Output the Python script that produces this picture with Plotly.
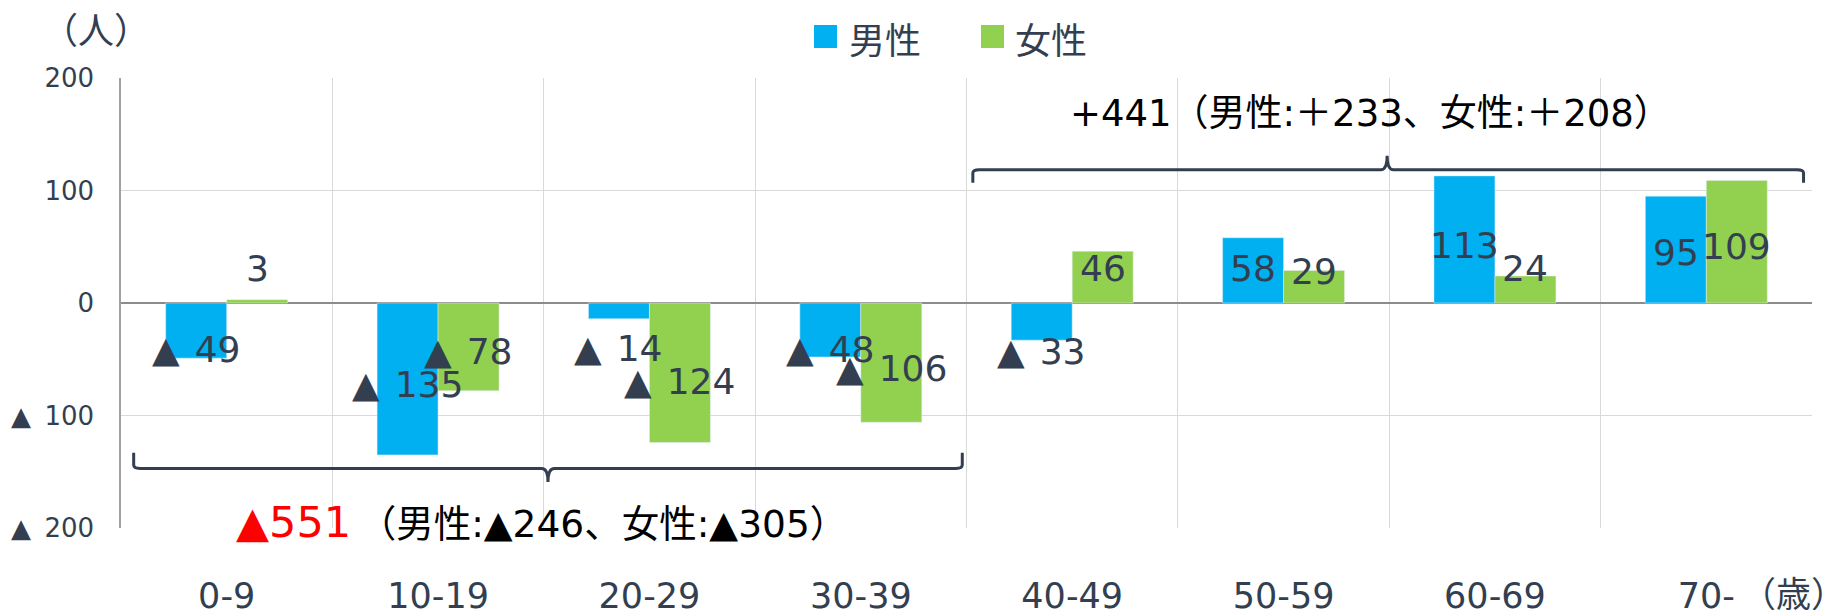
import plotly.graph_objects as go

categories = ["0-9", "10-19", "20-29", "30-39", "40-49", "50-59", "60-69", "70-"]
male = [-49, -135, -14, -48, -33, 58, 113, 95]
female = [3, -78, -124, -106, 46, 29, 24, 109]
y_tickvals = [200, 100, 0, -100, -200]
y_ticktext = ["200", "100", "0", "▲\u2009 100", "▲\u2009 200"]

# label placement (layout, data units)
male_label_y = [-41, -72, -40, -41, -43, 31, 51, 45]
female_label_y = [31, -43, -70, -58, 31, 28, 31, 50]

BLUE = "#00B0F0"
GREEN = "#92D050"
TXT = "#333F50"
CJK = "Noto Sans CJK JP"
NUM = "DejaVu Sans"
MIX = "DejaVu Sans, Noto Sans CJK JP"

W, H = 1831, 614
L, R, T, B = 121, 19, 78, 86
PW, PH = W - L - R, H - T - B

def px(xp):
    return (xp - L) / PW

def py(yp):
    return (H - B - yp) / PH

x = list(range(len(categories)))

fig = go.Figure()
fig.add_bar(x=x, y=male, name="男性", marker_color=BLUE, showlegend=False)
fig.add_bar(x=x, y=female, name="女性", marker_color=GREEN, showlegend=False)

def fmt(v):
    return f"▲\u200a {abs(v)}" if v < 0 else f"{v}"

bar_half = 0.577 / 4
annotations = []
for i, (m, f) in enumerate(zip(male, female)):
    annotations.append(dict(x=i - bar_half, y=male_label_y[i], text=fmt(m), showarrow=False,
                             font=dict(family=NUM, size=36, color=TXT), xanchor="center", yanchor="middle"))
    annotations.append(dict(x=i + bar_half, y=female_label_y[i], text=fmt(f), showarrow=False,
                             font=dict(family=NUM, size=36, color=TXT), xanchor="center", yanchor="middle"))

# summary texts
annotations.append(dict(xref="paper", yref="paper", x=px(1068), y=py(114), xanchor="left", yanchor="middle",
                        showarrow=False, text="+441（男性:＋233、女性:＋208）",
                        font=dict(family=MIX, size=37, color="#000000")))
annotations.append(dict(xref="paper", yref="paper", x=px(234), y=py(522), xanchor="left", yanchor="middle",
                        showarrow=False,
                        text="<span style='color:#FF0000;font-size:43px'>▲551</span>\u2009（男性:▲246、女性:▲305）",
                        font=dict(family=MIX, size=37.5, color="#000000")))
# axis unit labels
annotations.append(dict(xref="paper", yref="paper", x=px(96), y=py(28), xanchor="center",
                        yanchor="middle", showarrow=False, text="（人）",
                        font=dict(family=CJK, size=36, color=TXT)))
annotations.append(dict(xref="paper", yref="paper", x=px(1793), y=py(591), xanchor="center",
                        yanchor="middle", showarrow=False, text="（歳）",
                        font=dict(family=CJK, size=35, color=TXT)))
# manual legend texts
annotations.append(dict(xref="paper", yref="paper", x=px(847), y=py(38),
                        xanchor="left", yanchor="middle", showarrow=False, text="男性",
                        font=dict(family=CJK, size=36, color=TXT)))
annotations.append(dict(xref="paper", yref="paper", x=px(1013), y=py(38),
                        xanchor="left", yanchor="middle", showarrow=False, text="女性",
                        font=dict(family=CJK, size=36, color=TXT)))

shapes = []
for x0px, col in [(814, BLUE), (981, GREEN)]:
    shapes.append(dict(type="rect", xref="paper", yref="paper",
                       x0=px(x0px), x1=px(x0px + 23), y0=py(48), y1=py(25),
                       fillcolor=col, line=dict(width=0)))

# brackets
def bracket(x0, x1, xm, yh, yend, ytip, d):
    r = 0.03
    return (f"M{x0},{yend} L{x0},{yh + d} Q{x0},{yh} {x0 + r},{yh} "
            f"L{xm - r},{yh} Q{xm},{yh} {xm},{ytip} Q{xm},{yh} {xm + r},{yh} "
            f"L{x1 - r},{yh} Q{x1},{yh} {x1},{yh + d} L{x1},{yend}")

shapes.append(dict(type="path", xref="x", yref="y",
                   path=bracket(3.53, 7.46, 5.49, 118.5, 107, 131, -3),
                   line=dict(color=TXT, width=3)))
shapes.append(dict(type="path", xref="x", yref="y",
                   path=bracket(-0.44, 3.48, 1.52, -147, -133, -159, 3),
                   line=dict(color=TXT, width=3)))

fig.update_layout(
    width=W, height=H,
    margin=dict(l=L, r=R, t=T, b=B, autoexpand=False),
    paper_bgcolor="white", plot_bgcolor="white",
    barmode="group", bargap=0.423, bargroupgap=0,
    annotations=annotations, shapes=shapes,
    showlegend=False,
)
fig.update_xaxes(
    range=[-0.5, 7.5], tickvals=x, ticktext=categories,
    tickfont=dict(family=NUM, size=35, color=TXT),
    showgrid=False, zeroline=False, automargin=False,
    showline=False, ticks="", ticklabelstandoff=44,
    minor=dict(tick0=-0.5, dtick=1, showgrid=True, gridcolor="#D9D9D9", gridwidth=1),
)
fig.update_yaxes(
    range=[-200, 200], tickvals=y_tickvals, ticktext=y_ticktext,
    tickfont=dict(family=NUM, size=26, color=TXT),
    showgrid=True, gridcolor="#D9D9D9", gridwidth=1, automargin=False,
    zeroline=True, zerolinecolor="#8C8C8C", zerolinewidth=1.5,
    showline=True, linecolor="#A0A0A0", linewidth=1.5,
    ticks="", ticklabelstandoff=20,
)

fig.write_html("out.html", config={"displayModeBar": False},
               post_script="document.body.style.margin='0';document.body.style.overflow='hidden';")
